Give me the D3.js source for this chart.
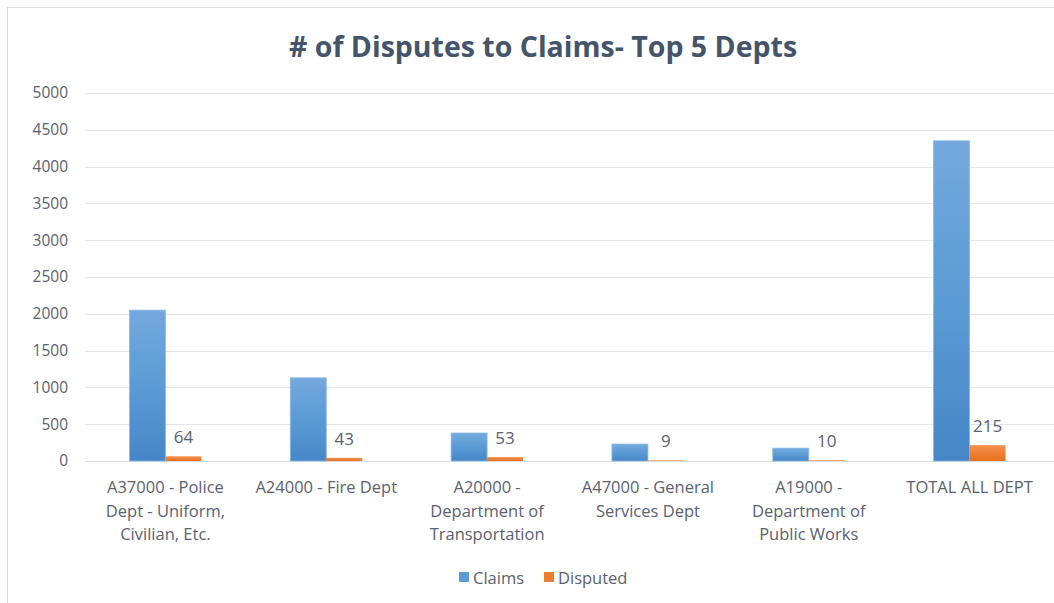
<!DOCTYPE html>
<html>
<head>
<meta charset="utf-8">
<script src="https://cdn.jsdelivr.net/npm/d3@7"></script>
<style>
  body { margin: 0; background: #fff; }
  svg { font-family: "Open Sans", sans-serif; }
</style>
</head>
<body>
<div id="container"></div>
<script>
// chart data
var categories = [
    ["A37000 - Police", "Dept - Uniform,", "Civilian, Etc."],
    ["A24000 - Fire Dept"],
    ["A20000 -", "Department of", "Transportation"],
    ["A47000 - General", "Services Dept"],
    ["A19000 -", "Department of", "Public Works"],
    ["TOTAL ALL DEPT"]
];
var claims = [2050, 1130, 380, 230, 175, 4350];
var disputed = [64, 43, 53, 9, 10, 215];
var yTicks = [0, 500, 1000, 1500, 2000, 2500, 3000, 3500, 4000, 4500, 5000];
var seriesNames = ["Claims", "Disputed"];

var W = 1054, H = 603;
var margin = { top: 93, right: 4, bottom: 142, left: 85 };
var textColor = "#5a6170";

var svg = d3.select("#container").append("svg")
    .attr("width", W).attr("height", H);

// outer chart border
svg.append("rect")
    .attr("x", 7.5).attr("y", 7.5)
    .attr("width", W).attr("height", H)
    .attr("fill", "#fff")
    .attr("stroke", "#d9dde3");

var defs = svg.append("defs");
var gb = defs.append("linearGradient").attr("id", "gBlue")
    .attr("x1", 0).attr("y1", 0).attr("x2", 0).attr("y2", 1);
gb.append("stop").attr("offset", "0%").attr("stop-color", "#74a9dd");
gb.append("stop").attr("offset", "50%").attr("stop-color", "#5b9bd5");
gb.append("stop").attr("offset", "100%").attr("stop-color", "#4586c7");
var go = defs.append("linearGradient").attr("id", "gOrange")
    .attr("x1", 0).attr("y1", 0).attr("x2", 0).attr("y2", 1);
go.append("stop").attr("offset", "0%").attr("stop-color", "#f5924d");
go.append("stop").attr("offset", "100%").attr("stop-color", "#e8701e");

// title
svg.append("text")
    .attr("x", 543).attr("y", 57)
    .attr("text-anchor", "middle")
    .style("font-size", "28.5px")
    .style("font-weight", "bold")
    .style("fill", "#44546a")
    .text("# of Disputes to Claims- Top 5 Depts");

var x = d3.scaleBand()
    .domain(d3.range(categories.length))
    .range([margin.left, 1050]);

var x1 = d3.scaleBand()
    .domain(seriesNames)
    .range([0, x.bandwidth()])
    .paddingInner(0)
    .paddingOuter(1.236);

var y = d3.scaleLinear()
    .domain([0, 5000])
    .range([461, margin.top]);

// gridlines
svg.append("g")
    .selectAll("line")
    .data(yTicks)
    .enter().append("line")
    .attr("x1", margin.left).attr("x2", W)
    .attr("y1", function (d) { return Math.round(y(d)) + 0.5; })
    .attr("y2", function (d) { return Math.round(y(d)) + 0.5; })
    .attr("stroke", function (d) { return d === 0 ? "#d9dde3" : "#e4e7ec"; })
    .attr("stroke-width", 1.2);

// y axis labels
var yAxis = svg.append("g")
    .attr("transform", "translate(" + (margin.left - 17) + ",0)")
    .call(d3.axisLeft(y).tickValues(yTicks).tickFormat(d3.format("d")).tickSize(0).tickPadding(0));
yAxis.select(".domain").remove();
yAxis.selectAll("text")
    .style("font-family", "Open Sans, sans-serif")
    .style("font-size", "15.5px")
    .style("fill", textColor);

var groups = svg.append("g").selectAll("g")
    .data(categories)
    .enter().append("g")
    .attr("transform", function (d, i) { return "translate(" + x(i) + ",0)"; });

// claims bars
groups.append("rect")
    .attr("x", x1("Claims"))
    .attr("width", x1.bandwidth())
    .attr("y", function (d, i) { return y(claims[i]); })
    .attr("height", function (d, i) { return y(0) - y(claims[i]); })
    .attr("fill", "url(#gBlue)")
    .attr("stroke", "#8ab8e4")
    .attr("stroke-width", 0.8);

// disputed bars
groups.append("rect")
    .attr("x", x1("Disputed"))
    .attr("width", x1.bandwidth())
    .attr("y", function (d, i) { return y(disputed[i]); })
    .attr("height", function (d, i) { return y(0) - y(disputed[i]); })
    .attr("fill", "url(#gOrange)");

// disputed labels
groups.append("text")
    .attr("x", x1("Disputed") + x1.bandwidth() / 2)
    .attr("y", function (d, i) { return y(disputed[i]) - 13; })
    .attr("text-anchor", "middle")
    .style("font-size", "17px")
    .style("fill", textColor)
    .text(function (d, i) { return disputed[i]; });

// category labels
groups.append("text")
    .attr("x", x.bandwidth() / 2)
    .attr("y", 493)
    .attr("text-anchor", "middle")
    .style("font-size", "16.5px")
    .style("fill", textColor)
    .selectAll("tspan")
    .data(function (d) { return d; })
    .enter().append("tspan")
    .attr("x", x.bandwidth() / 2)
    .attr("dy", function (d, i) { return i === 0 ? 0 : 23.5; })
    .text(function (d) { return d; });

// legend
var legend = svg.append("g");
var legendItems = [
    { name: "Claims", color: "#5b9bd5", x: 459 },
    { name: "Disputed", color: "#ed7d31", x: 544 }
];
legendItems.forEach(function (it) {
    legend.append("rect")
        .attr("x", it.x).attr("y", 572)
        .attr("width", 10).attr("height", 10)
        .attr("fill", it.color);
    legend.append("text")
        .attr("x", it.x + 14).attr("y", 583.5)
        .style("font-size", "16.5px")
        .style("fill", textColor)
        .text(it.name);
});
</script>
</body>
</html>
